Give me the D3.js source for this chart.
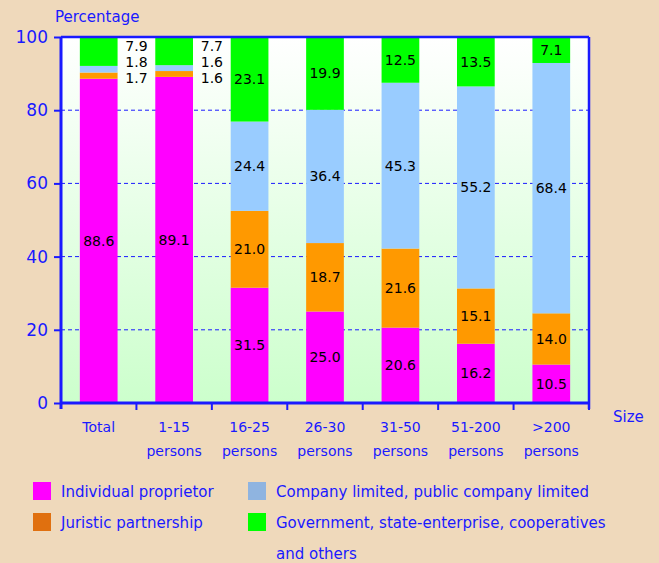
<!DOCTYPE html>
<html>
<head>
<meta charset="utf-8">
<script src="https://cdn.jsdelivr.net/npm/d3@7"></script>
<style>
  body { margin: 0; background: #efd9bb; }
  svg { display: block; font-family: "DejaVu Sans", sans-serif; }
</style>
</head>
<body>
<script>
// categories (two-line tick labels)
const categories = ["Total", "1-15 persons", "16-25 persons", "26-30 persons", "31-50 persons", "51-200 persons", ">200 persons"];
const categoryLines = [["Total"], ["1-15", "persons"], ["16-25", "persons"], ["26-30", "persons"], ["31-50", "persons"], ["51-200", "persons"], [">200", "persons"]];

// series values (percent)
const individual = [88.6, 89.1, 31.5, 25.0, 20.6, 16.2, 10.5];
const juristic   = [1.7, 1.6, 21.0, 18.7, 21.6, 15.1, 14.0];
const company    = [1.8, 1.6, 24.4, 36.4, 45.3, 55.2, 68.4];
const government = [7.9, 7.7, 23.1, 19.9, 12.5, 13.5, 7.1];

const seriesNames = ["Individual proprietor", "Juristic partnership", "Company limited, public company limited", "Government, state-enterprise, cooperatives"];
const yTicks = [0, 20, 40, 60, 80, 100];

const width = 659, height = 563;
const margin = { top: 37, right: 70, bottom: 160, left: 61 };
const innerW = width - margin.left - margin.right;
const innerH = height - margin.top - margin.bottom;

const barColors = ["#ff00ff", "#ff9900", "#99ccff", "#00ff00"];
const legendColors = ["#ff00ff", "#e0700f", "#8fb4e0", "#00ff00"];
const blue = "#1a1aff";

const rows = categories.map(function (c, i) {
  return { cat: c, individual: individual[i], juristic: juristic[i], company: company[i], government: government[i] };
});
const keys = ["individual", "juristic", "company", "government"];
const stacked = d3.stack().keys(keys)(rows);

const x = d3.scaleBand().domain(categories).range([0, innerW]).paddingInner(0.5).paddingOuter(0.25);
const y = d3.scaleLinear().domain([0, 100]).range([innerH, 0]);

const svg = d3.select("body").append("svg")
  .attr("width", width)
  .attr("height", height);

// background gradient for plot
const defs = svg.append("defs");
const grad = defs.append("linearGradient").attr("id", "bg").attr("x1", 0).attr("y1", 0).attr("x2", 0).attr("y2", 1);
grad.append("stop").attr("offset", "0%").attr("stop-color", "#ffffff");
grad.append("stop").attr("offset", "100%").attr("stop-color", "#ccffcc");

const g = svg.append("g").attr("transform", "translate(" + margin.left + "," + margin.top + ")");

g.append("rect").attr("width", innerW).attr("height", innerH).attr("fill", "url(#bg)");

// dashed gridlines
g.selectAll("line.grid")
  .data(yTicks.filter(function (t) { return t > 0 && t < 100; }))
  .enter().append("line")
  .attr("class", "grid")
  .attr("x1", 0).attr("x2", innerW)
  .attr("y1", function (d) { return y(d); })
  .attr("y2", function (d) { return y(d); })
  .attr("stroke", blue)
  .attr("stroke-width", 1)
  .attr("stroke-dasharray", "4,3");

// bars
g.selectAll("g.layer")
  .data(stacked)
  .enter().append("g")
  .attr("class", "layer")
  .attr("fill", function (d, i) { return barColors[i]; })
  .selectAll("rect")
  .data(function (d) { return d; })
  .enter().append("rect")
  .attr("x", function (d) { return x(d.data.cat); })
  .attr("width", x.bandwidth())
  .attr("y", function (d) { return y(d[1]); })
  .attr("height", function (d) { return y(d[0]) - y(d[1]); });

// value labels
const fmt = d3.format(".1f");
stacked.forEach(function (layer, li) {
  layer.forEach(function (d, ci) {
    const v = d[1] - d[0];
    const narrow = rows[ci].juristic < 5;
    let lx, ly;
    if (narrow && li > 0) {
      // small segments: stacked beside the bar
      lx = x(d.data.cat) + x.bandwidth() + x.step() * 0.25;
      ly = y(100) + 14 + (3 - li) * 16;
    } else {
      lx = x(d.data.cat) + x.bandwidth() / 2;
      ly = (y(d[0]) + y(d[1])) / 2 + 5;
    }
    g.append("text")
      .attr("x", lx).attr("y", ly)
      .attr("text-anchor", "middle")
      .attr("font-size", 14)
      .attr("fill", "#000")
      .text(fmt(v));
  });
});

// y axis
const yAxis = g.append("g")
  .call(d3.axisLeft(y).tickValues(yTicks).tickSize(7).tickPadding(6));
yAxis.select(".domain").remove();
yAxis.selectAll(".tick line").attr("stroke", blue).attr("stroke-width", 2);
yAxis.selectAll(".tick text").attr("fill", blue).attr("font-size", 17).attr("font-family", "DejaVu Sans");

// x axis ticks at band boundaries
const bounds = categories.map(function (c) { return x(c) - x.step() * x.paddingInner() / 2; }).slice(1).concat([innerW]);
g.selectAll("line.xtick")
  .data(bounds)
  .enter().append("line")
  .attr("x1", function (d) { return d; }).attr("x2", function (d) { return d; })
  .attr("y1", innerH).attr("y2", innerH + 7)
  .attr("stroke", blue).attr("stroke-width", 2);

// frame lines
g.append("line").attr("x1", 0).attr("x2", 0).attr("y1", 0).attr("y2", innerH + 6).attr("stroke", blue).attr("stroke-width", 3);
g.append("line").attr("x1", 0).attr("x2", innerW).attr("y1", innerH).attr("y2", innerH).attr("stroke", blue).attr("stroke-width", 3);
g.append("line").attr("x1", 0).attr("x2", innerW).attr("y1", 0).attr("y2", 0).attr("stroke", blue).attr("stroke-width", 2.5);
g.append("line").attr("x1", innerW).attr("x2", innerW).attr("y1", 0).attr("y2", innerH + 6).attr("stroke", blue).attr("stroke-width", 2.5);

// category labels
categoryLines.forEach(function (lines, i) {
  const cx = x(categories[i]) + x.bandwidth() / 2;
  lines.forEach(function (t, k) {
    g.append("text")
      .attr("x", cx).attr("y", innerH + 29 + k * 24)
      .attr("text-anchor", "middle")
      .attr("font-size", 14)
      .attr("fill", blue)
      .text(t);
  });
});

// axis titles
svg.append("text").attr("x", 55).attr("y", 22).attr("font-size", 15).attr("fill", blue).text("Percentage");
svg.append("text").attr("x", 613).attr("y", 422).attr("font-size", 15).attr("fill", blue).text("Size");

// legend
const legendPos = [[33, 482], [33, 513], [248, 482], [248, 513]];
seriesNames.forEach(function (name, i) {
  const p = legendPos[i];
  svg.append("rect").attr("x", p[0]).attr("y", p[1]).attr("width", 18).attr("height", 18).attr("fill", legendColors[i]);
  svg.append("text").attr("x", p[0] + 28).attr("y", p[1] + 15).attr("font-size", 15).attr("fill", blue).text(name);
});
svg.append("text").attr("x", 276).attr("y", 559).attr("font-size", 15).attr("fill", blue).text("and others");
</script>
</body>
</html>
